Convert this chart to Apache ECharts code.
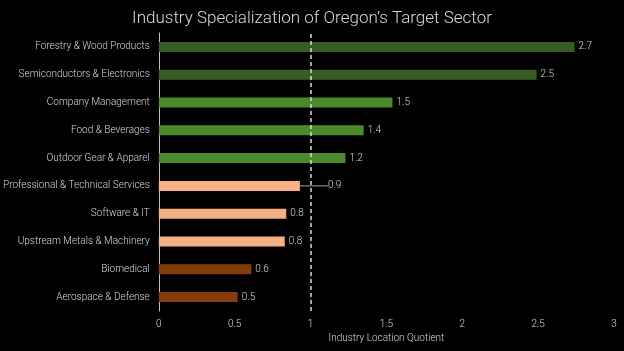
<!DOCTYPE html>
<html>
<head>
    <meta http-equiv="Content-Type" content="text/html; charset=utf-8" />
    <title></title>
    <script type="text/javascript" src="https://cdn.jsdelivr.net/npm/echarts@6/dist/echarts.min.js"></script>
    <style>
        html, body {
            margin: 0;
            padding: 0;
            background: #000;
        }
    </style>
</head>
<body>
    <div id="chartView" style="width:624px;height:351px;"></div>

    <script>
        // 从下到上（y轴类目倒序）
        var sectors = [
            "Aerospace & Defense",
            "Biomedical",
            "Upstream Metals & Machinery",
            "Software & IT",
            "Professional & Technical Services",
            "Outdoor Gear & Apparel",
            "Food & Beverages",
            "Company Management",
            "Semiconductors & Electronics",
            "Forestry & Wood Products"
        ];
        var quotients = [0.52, 0.61, 0.83, 0.84, 0.93, 1.23, 1.35, 1.54, 2.49, 2.74];
        var groups = ["brown", "brown", "peach", "peach", "peach", "green", "green", "green", "dark", "dark"];
        var groupColors = { dark: "#385d23", green: "#4a8a2c", peach: "#f4b183", brown: "#843c0c" };
        var xTicks = [0, 0.5, 1, 1.5, 2, 2.5, 3];
        var baseline = 1;

        var textColor = "#d9d9d9";
        var font = "Roboto";

        var myChart = echarts.init(document.getElementById("chartView"));

        var barData = [];
        for (var i = 0; i < quotients.length; i++) {
            var item = {
                value: quotients[i],
                itemStyle: { color: groupColors[groups[i]] }
            };
            if (sectors[i] == "Professional & Technical Services") {
                item.labelLine = { show: true, lineStyle: { color: "#a6a6a6", width: 1 } };
            }
            barData.push(item);
        }

        var option = {
            backgroundColor: "#000",
            animation: false,
            title: {
                text: "Industry Specialization of Oregon\u2019s Target Sector",
                left: "center",
                top: 5,
                textStyle: {
                    color: textColor,
                    fontFamily: font,
                    fontWeight: 300,
                    fontSize: 17
                }
            },
            grid: {
                left: 157,
                right: 10,
                top: 33,
                bottom: 40
            },
            xAxis: {
                type: "value",
                min: xTicks[0],
                max: xTicks[xTicks.length - 1],
                interval: 0.5,
                name: "Industry Location Quotient",
                nameLocation: "middle",
                nameGap: 21,
                nameTextStyle: { color: textColor, fontFamily: font, fontWeight: 300, fontSize: 10 },
                axisLine: { show: false },
                axisTick: { show: false },
                splitLine: { show: false },
                axisLabel: {
                    color: textColor,
                    fontFamily: font,
                    fontWeight: 300,
                    fontSize: 10,
                    margin: 8
                }
            },
            yAxis: {
                type: "category",
                data: sectors,
                axisLine: { show: true, lineStyle: { color: "#bfbfbf", width: 1 } },
                axisTick: { show: false },
                axisLabel: {
                    color: textColor,
                    fontFamily: font,
                    fontWeight: 300,
                    fontSize: 10,
                    margin: 9
                }
            },
            series: [
                {
                    type: "bar",
                    data: barData,
                    barWidth: 10,
                    label: {
                        show: true,
                        position: "right",
                        distance: 4,
                        color: textColor,
                        fontFamily: font,
                        fontWeight: 300,
                        fontSize: 10,
                        formatter: function (p) {
                            return p.value.toFixed(1);
                        }
                    },
                    labelLayout: function (params) {
                        if (params.dataIndex == 4) {
                            return { dx: 24 };
                        }
                        return {};
                    },
                    markLine: {
                        silent: true,
                        symbol: "none",
                        label: { show: false },
                        lineStyle: { color: "#d9d9d9", type: [4, 3], width: 1.5 },
                        data: [{ xAxis: baseline }]
                    }
                }
            ]
        };
        myChart.setOption(option);
    </script>
</body>
</html>
